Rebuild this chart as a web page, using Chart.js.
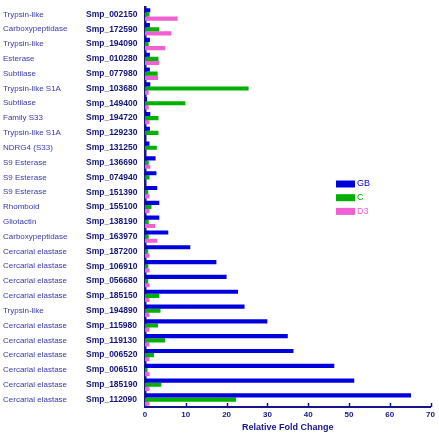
<!DOCTYPE html>
<html>
<head>
<meta charset="utf-8">
<script src="https://cdn.jsdelivr.net/npm/chart.js@4/dist/chart.umd.min.js"></script>
<style>
  html, body { margin: 0; padding: 0; background: #ffffff; }
  #wrap { width: 439px; height: 434px; }
</style>
</head>
<body>
<div id="wrap"><canvas id="c" width="439" height="434"></canvas></div>
<script>
const ids = ['Smp_002150','Smp_172590','Smp_194090','Smp_010280','Smp_077980','Smp_103680','Smp_149400','Smp_194720','Smp_129230','Smp_131250','Smp_136690','Smp_074940','Smp_151390','Smp_155100','Smp_138190','Smp_163970','Smp_187200','Smp_106910','Smp_056680','Smp_185150','Smp_194890','Smp_115980','Smp_119130','Smp_006520','Smp_006510','Smp_185190','Smp_112090'];
const descriptions = ['Trypsin-like','Carboxypeptidase','Trypsin-like','Esterase','Subtilase','Trypsin-like S1A','Subtilase','Family S33','Trypsin-like S1A','NDRG4 (S33)','S9 Esterase','S9 Esterase','S9 Esterase','Rhomboid','Gliotactin','Carboxypeptidase','Cercarial elastase','Cercarial elastase','Cercarial elastase','Cercarial elastase','Trypsin-like','Cercarial elastase','Cercarial elastase','Cercarial elastase','Cercarial elastase','Cercarial elastase','Cercarial elastase'];
const seriesNames = ['GB','C','D3'];
const gbValues = [1.3,1.2,1.2,1.2,1.2,1.3,0.5,1.3,1.2,1.1,2.6,2.8,3.0,3.5,3.5,5.7,11.1,17.5,20.0,22.8,24.4,30.0,35.0,36.4,46.4,51.3,65.2];
const cValues  = [1.1,3.5,0.9,3.3,3.1,25.4,9.9,3.3,3.3,2.9,0.9,1.1,0.8,1.6,0.9,0.9,0.8,0.8,0.8,3.5,3.8,3.2,4.9,2.2,0.6,4.0,22.3];
const d3Values = [8.0,6.5,5.0,3.5,3.2,0.9,0.9,1.1,0,0,1.3,0,1.1,1.1,2.5,3.0,1.1,1.1,1.1,1.1,1.1,1.1,1.1,1.1,1.1,1.1,1.1];
const xTicks = [0,10,20,30,40,50,60,70];
const xTitle = 'Relative Fold Change';

const colors = ['#0000dc','#00b000','#f060d2'];
const navy = '#16168a';
const FONT = "Arial, 'Liberation Sans', sans-serif";

const legendPlugin = {
  id: 'sideLegend',
  afterDraw(chart) {
    const ctx = chart.ctx;
    const ca = chart.chartArea;
    const x0 = ca.left + 191;
    const y0 = ca.top + 177;
    ctx.save();
    ctx.font = '9px ' + FONT;
    ctx.textBaseline = 'middle';
    chart.data.datasets.forEach((ds, i) => {
      const y = y0 + i * 13.7;
      ctx.fillStyle = ds.backgroundColor;
      ctx.fillRect(x0, y - 3.5, 19, 7);
      ctx.fillText(ds.label, x0 + 21, y);
    });
    ctx.restore();
  }
};

const innerTicks = {
  id: 'innerTicks',
  afterDraw(chart) {
    const xs = chart.scales.x;
    const ctx = chart.ctx;
    const b = chart.chartArea.bottom;
    ctx.save();
    ctx.strokeStyle = navy;
    ctx.lineWidth = 1.5;
    xTicks.forEach(v => {
      if (v === 0) return;
      const px = Math.round(xs.getPixelForValue(v)) + 0.5;
      ctx.beginPath();
      ctx.moveTo(px, b);
      ctx.lineTo(px, b - 4);
      ctx.stroke();
    });
    ctx.restore();
  }
};

new Chart(document.getElementById('c'), {
  type: 'bar',
  data: {
    labels: ids,
    datasets: [
      { label: seriesNames[0], data: gbValues, backgroundColor: colors[0] },
      { label: seriesNames[1], data: cValues, backgroundColor: colors[1] },
      { label: seriesNames[2], data: d3Values, backgroundColor: colors[2] }
    ]
  },
  options: {
    indexAxis: 'y',
    responsive: false,
    animation: false,
    devicePixelRatio: 1,
    categoryPercentage: 0.84,
    barPercentage: 1.0,
    layout: { padding: { left: 3, top: 7, right: 6, bottom: 0 } },
    plugins: {
      legend: { display: false },
      tooltip: { enabled: false }
    },
    scales: {
      x: {
        type: 'linear',
        min: 0, max: 70,
        afterBuildTicks(scale) { scale.ticks = xTicks.map(v => ({ value: v })); },
        grid: { display: false, drawTicks: false },
        border: { display: true, color: navy, width: 2 },
        ticks: { color: navy, font: { family: FONT, size: 8, weight: 'bold', lineHeight: 1 }, padding: 4 },
        title: { display: true, text: xTitle, color: navy, font: { family: FONT, size: 9, weight: 'bold', lineHeight: 1 }, padding: { top: 0, bottom: 2 } }
      },
      y: {
        type: 'category',
        position: 'left',
        weight: 0,
        grid: { display: false, drawTicks: false },
        border: { display: true, color: navy, width: 2.5 },
        ticks: { autoSkip: false, crossAlign: 'far', color: '#14147a', font: { family: FONT, size: 8.5, weight: 'bold', lineHeight: 1 }, padding: 0 },
        afterFit(scale) { scale.width = 59; }
      },
      yd: {
        type: 'category',
        position: 'left',
        weight: 1,
        labels: descriptions,
        offset: true,
        grid: { display: false, drawTicks: false },
        border: { display: false },
        ticks: { autoSkip: false, crossAlign: 'far', color: '#3838b0', font: { family: FONT, size: 8, lineHeight: 1 }, padding: 0 },
        afterFit(scale) { scale.width = 83; }
      }
    }
  },
  plugins: [legendPlugin, innerTicks]
});
</script>
</body>
</html>
